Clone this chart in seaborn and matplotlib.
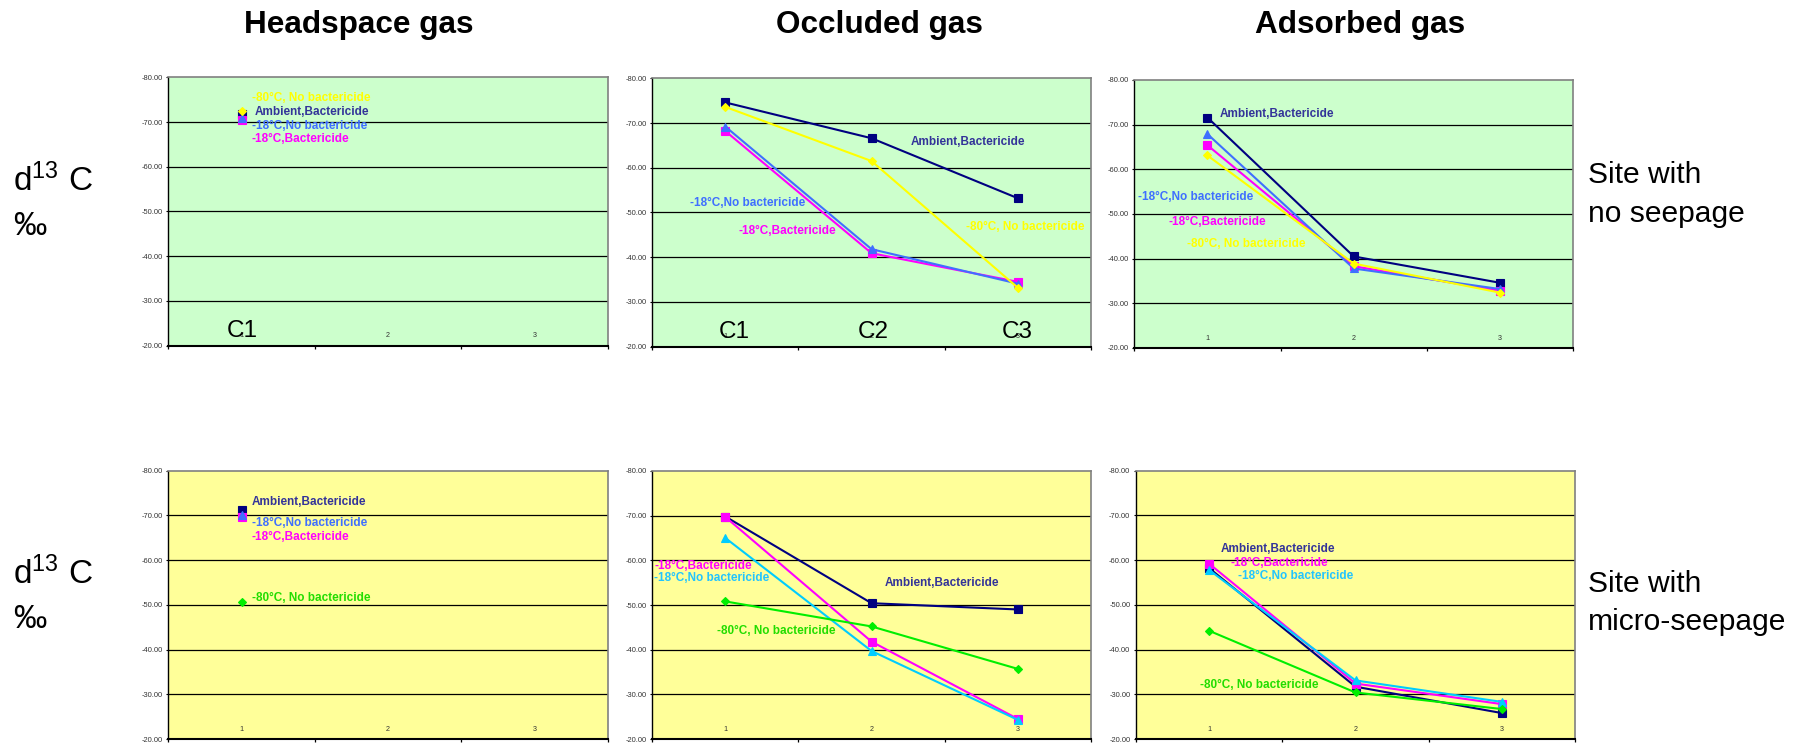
import matplotlib
matplotlib.use("Agg")
import matplotlib.pyplot as plt
import seaborn as sns
import pandas as pd

# ---------------- data ----------------
categories = [1, 2, 3]
cat_tick_labels = ["1", "2", "3"]
y_ticks = [-80, -70, -60, -50, -40, -30, -20]
col_titles = ["Headspace gas", "Occluded gas", "Adsorbed gas"]
row_titles = [["Site with", "no seepage"], ["Site with", "micro-seepage"]]
big_cat_labels = ["C1", "C2", "C3"]

s_amb = "Ambient,Bactericide"
s_m18b = "-18°C,Bactericide"
s_m18n = "-18°C,No bactericide"
s_m80n = "-80°C, No bactericide"
series_order = [s_amb, s_m18b, s_m18n, s_m80n]

# Site with no seepage
ns_head_amb = [-71.8]
ns_head_m18b = [-70.5]
ns_head_m18n = [-71.0]
ns_head_m80n = [-72.5]

ns_occl_amb = [-74.6, -66.6, -53.2]
ns_occl_m18b = [-68.2, -40.9, -34.5]
ns_occl_m18n = [-69.2, -41.8, -34.1]
ns_occl_m80n = [-73.6, -61.5, -33.2]

ns_adso_amb = [-71.6, -40.5, -34.6]
ns_adso_m18b = [-65.4, -38.3, -32.8]
ns_adso_m18n = [-67.9, -37.8, -33.2]
ns_adso_m80n = [-63.1, -38.9, -32.4]

# Site with micro-seepage
ms_head_amb = [-71.1]
ms_head_m18b = [-69.7]
ms_head_m18n = [-70.2]
ms_head_m80n = [-50.7]

ms_occl_amb = [-69.8, -50.4, -49.0]
ms_occl_m18b = [-69.7, -41.8, -24.5]
ms_occl_m18n = [-65.0, -39.7, -24.3]
ms_occl_m80n = [-50.8, -45.2, -35.7]

ms_adso_amb = [-58.2, -31.7, -25.8]
ms_adso_m18b = [-59.2, -32.4, -27.8]
ms_adso_m18n = [-57.8, -33.1, -28.3]
ms_adso_m80n = [-44.2, -30.4, -26.7]

panel_data = [
    [{s_amb: ns_head_amb, s_m18b: ns_head_m18b, s_m18n: ns_head_m18n, s_m80n: ns_head_m80n},
     {s_amb: ns_occl_amb, s_m18b: ns_occl_m18b, s_m18n: ns_occl_m18n, s_m80n: ns_occl_m80n},
     {s_amb: ns_adso_amb, s_m18b: ns_adso_m18b, s_m18n: ns_adso_m18n, s_m80n: ns_adso_m80n}],
    [{s_amb: ms_head_amb, s_m18b: ms_head_m18b, s_m18n: ms_head_m18n, s_m80n: ms_head_m80n},
     {s_amb: ms_occl_amb, s_m18b: ms_occl_m18b, s_m18n: ms_occl_m18n, s_m80n: ms_occl_m80n},
     {s_amb: ms_adso_amb, s_m18b: ms_adso_m18b, s_m18n: ms_adso_m18n, s_m80n: ms_adso_m80n}],
]

# ---------------- layout / styles ----------------
W, H = 1805, 746
NAVY = "#000080"
AMB_TXT = "#333399"
MAG = "#ff00ff"
BLUE = "#3f6fff"
CYAN = "#00ccff"
YEL = "#ffff00"
GRN = "#00ee00"
GRN_TXT = "#22dd00"

row_bg = ["#ccffcc", "#ffff99"]
line_colors = [
    {s_amb: NAVY, s_m18b: MAG, s_m18n: BLUE, s_m80n: YEL},
    {s_amb: NAVY, s_m18b: MAG, s_m18n: BLUE, s_m80n: GRN},
]
text_colors = [
    {s_amb: AMB_TXT, s_m18b: MAG, s_m18n: BLUE, s_m80n: YEL},
    {s_amb: AMB_TXT, s_m18b: MAG, s_m18n: BLUE, s_m80n: GRN_TXT},
]
markers = {s_amb: "s", s_m18b: "s", s_m18n: "^", s_m80n: "D"}
msizes = {s_amb: 5.5, s_m18b: 5.5, s_m18n: 5.5, s_m80n: 4.3}

# panel rectangles in pixels (left, top, width, height)
rects = [
    [(168.3, 77.3, 439.4, 268.4), (652.3, 78.3, 438.5, 268.4), (1134.3, 80.0, 438.8, 268.0)],
    [(168.3, 470.7, 439.4, 268.3), (652.3, 471.0, 438.5, 268.0), (1136.0, 470.7, 439.0, 268.3)],
]

# series label placements (x start, y centre) in data coords
label_pos = [
    [{s_m80n: (1.069, -75.45), s_amb: (1.088, -72.3), s_m18n: (1.069, -69.1), s_m18b: (1.069, -66.2)},
     {s_amb: (2.27, -65.84), s_m18n: (0.76, -52.2), s_m18b: (1.093, -45.9), s_m80n: (2.645, -46.8)},
     {s_amb: (1.085, -72.4), s_m18n: (0.523, -53.7), s_m18b: (0.737, -48.1), s_m80n: (0.857, -43.3)}],
    [{s_amb: (1.069, -72.9), s_m18n: (1.069, -68.3), s_m18b: (1.069, -65.2), s_m80n: (1.069, -51.5)},
     {s_m18b: (0.514, -58.8), s_m18n: (0.514, -56.0), s_amb: (2.088, -54.9), s_m80n: (0.944, -44.25)},
     {s_amb: (1.081, -62.5), s_m18b: (1.147, -59.4), s_m18n: (1.199, -56.5), s_m80n: (0.937, -32.1)}],
]
# big C labels: (panel row, col) -> list of x centres
big_labels = {(0, 0): [1.005], (0, 1): [1.06, 2.01, 3.0]}

sns.set_theme(style="white")
plt.rcParams["font.family"] = ["Liberation Sans", "DejaVu Sans"]
plt.rcParams["mathtext.fontset"] = "custom"
plt.rcParams["mathtext.rm"] = "Liberation Sans"
plt.rcParams["mathtext.it"] = "Liberation Sans:italic"
plt.rcParams["mathtext.bf"] = "Liberation Sans:bold"
plt.rcParams["mathtext.default"] = "regular"

fig = plt.figure(figsize=(W / 100, H / 100), dpi=100)
fig.patch.set_facecolor("white")


def frac_rect(l, t, w, h):
    return [l / W, 1 - (t + h) / H, w / W, h / H]


for r in range(2):
    # the bottom-row panels use a cyan triangle series in occluded / adsorbed panels
    for c in range(3):
        ax = fig.add_axes(frac_rect(*rects[r][c]))
        ax.set_facecolor(row_bg[r])
        lc = dict(line_colors[r])
        tc = dict(text_colors[r])
        if r == 1 and c > 0:
            lc[s_m18n] = CYAN
            tc[s_m18n] = "#22c4ff"
        # gridlines
        for yv in y_ticks[1:-1]:
            ax.axhline(yv, color="black", lw=0.9, zorder=1)
        for s in series_order:
            vals = panel_data[r][c][s]
            df = pd.DataFrame({"cat": categories[:len(vals)], "val": vals})
            sns.lineplot(data=df, x="cat", y="val", ax=ax, color=lc[s],
                         marker=markers[s], markersize=msizes[s],
                         markeredgecolor=lc[s], markeredgewidth=0.8,
                         linewidth=1.5, sort=False, errorbar=None,
                         legend=False, zorder=3)
        for s, (lx, ly) in label_pos[r][c].items():
            ax.text(lx, ly, s, color=tc[s], fontsize=8.5, fontweight="bold",
                    ha="left", va="center", zorder=4)
        for i, lab in zip(categories, cat_tick_labels):
            ax.text(i, -22.2, lab, fontsize=5.2, color="#333333",
                    ha="center", va="center", zorder=4)
        if (r, c) in big_labels:
            for xv, lab in zip(big_labels[(r, c)], big_cat_labels):
                ax.text(xv, -22.0, lab, fontsize=17.5, color="black",
                        ha="center", va="baseline", zorder=5)
        ax.set_xlim(0.5, 3.5)
        ax.set_ylim(-20, -80)
        ax.set_yticks(y_ticks)
        ax.set_yticklabels([f"{v:.2f}" for v in y_ticks])
        ax.set_xticks([0.5, 1.5, 2.5, 3.5])
        ax.set_xticklabels([])
        ax.set_xlabel("")
        ax.set_ylabel("")
        ax.tick_params(axis="y", direction="out", length=1.7, width=0.8,
                       pad=2.4, labelsize=5.4, labelcolor="#333333",
                       color="black", left=True)
        ax.tick_params(axis="x", direction="out", length=1.8, width=0.9,
                       color="black", bottom=True)
        ax.spines["left"].set_color("black")
        ax.spines["left"].set_linewidth(1.0)
        ax.spines["bottom"].set_color("black")
        ax.spines["bottom"].set_linewidth(1.5)
        for sp in ("top", "right"):
            ax.spines[sp].set_color("#808080")
            ax.spines[sp].set_linewidth(1.2)
        ax.grid(False)

# column titles
for title, xc in zip(col_titles, [359, 879, 1360]):
    fig.text(xc / W, 1 - 33 / H, title, fontsize=22.7, fontweight="bold",
             ha="center", va="baseline", color="black")

# left y labels
for base in [190.7, 584.0]:
    fig.text(13 / W, 1 - base / H, "d$^{13}$ C", fontsize=24, ha="left",
             va="baseline", color="black")
    fig.text(13 / W, 1 - (base + 44.5) / H, "‰", fontsize=24, ha="left",
             va="baseline", color="black")

# right row labels
for lines, bases in zip(row_titles, [(183.3, 221.7), (591.7, 630.0)]):
    for txt, b in zip(lines, bases):
        fig.text(1588 / W, 1 - b / H, txt, fontsize=21.6, ha="left",
                 va="baseline", color="black")

fig.savefig("out.png", dpi=100)
